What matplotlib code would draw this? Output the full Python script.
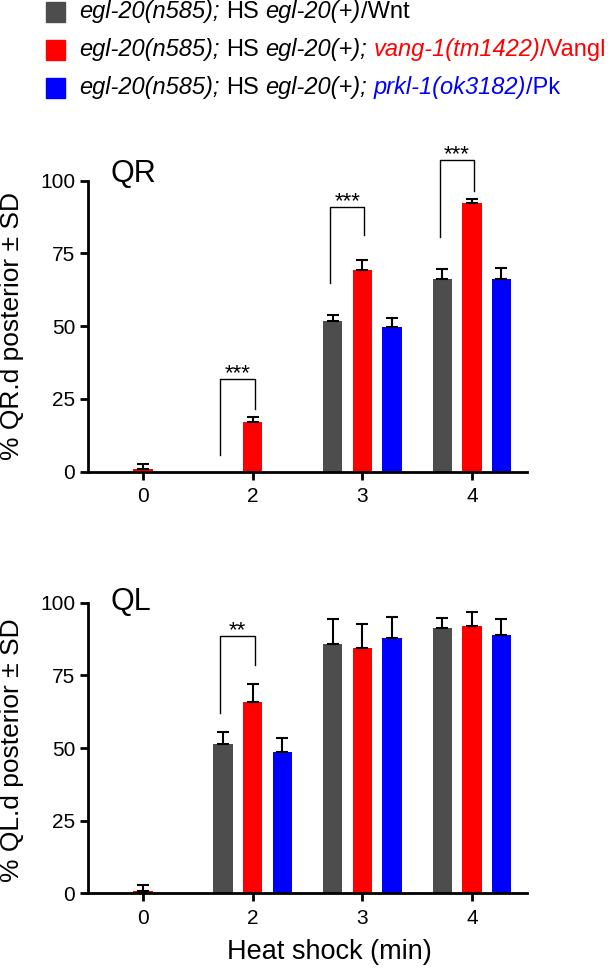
import numpy as np
import matplotlib.pyplot as plt
from matplotlib.patches import Rectangle

plt.rcParams['font.family'] = ['Liberation Sans', 'DejaVu Sans']

kategorien = ['0', '2', '3', '4']

# QR.d posterior (%), Mittelwert und SD
qr_wnt = [0, 0, 51.9, 66.3]
qr_wnt_sd = [0, 0, 2.0, 3.5]
qr_vangl = [0.8, 17.2, 69.4, 92.2]
qr_vangl_sd = [1.8, 1.6, 3.4, 1.5]
qr_pk = [0, 0, 49.8, 66.1]
qr_pk_sd = [0, 0, 3.1, 3.8]

# QL.d posterior (%), Mittelwert und SD
ql_wnt = [0, 51.3, 85.7, 91.2]
ql_wnt_sd = [0, 4.2, 8.6, 3.5]
ql_vangl = [0.8, 65.9, 84.3, 92.0]
ql_vangl_sd = [2.1, 6.0, 8.5, 4.9]
ql_pk = [0, 48.6, 87.8, 89.0]
ql_pk_sd = [0, 4.7, 7.2, 5.3]

# Signifikanz: Kategorie, Sterne, Bügelhöhe, unteres Ende links / rechts
qr_sig = [(1, '***', 31.8, 5.7, 21.7),
          (2, '***', 91.0, 64.8, 81.3),
          (3, '***', 107.1, 80.6, 96.6)]
ql_sig = [(1, '**', 88.5, 62.2, 78.6)]

GRAU = '#4d4d4d'
ROT = '#ff0000'
BLAU = '#0000ff'

fig = plt.figure(figsize=(6.15, 9.69), dpi=100)
W, H = 615, 969


def achse(links, oben, rechts, unten):
    return fig.add_axes([links / W, 1 - unten / H, (rechts - links) / W, (unten - oben) / H])


def panel(ax, reihen, sig, titel, titel_y):
    x = np.arange(len(kategorien))
    for i, (werte, sd, farbe) in enumerate(reihen):
        pos = x + (i - 1) * 0.27
        werte = np.array(werte, dtype=float)
        sd = np.array(sd, dtype=float)
        ax.bar(pos, werte, width=0.178, color=farbe, zorder=2)
        m = sd > 0
        ax.errorbar(pos[m], werte[m], yerr=[np.zeros(m.sum()), sd[m]], fmt='none',
                    ecolor='black', elinewidth=1.5, capsize=4.5, capthick=1.5, zorder=3)
    for k, sterne, top, y_links, y_rechts in sig:
        xl = k - 0.295
        xr = k + 0.02
        ax.plot([xl, xl, xr, xr], [y_links, top, top, y_rechts], color='black',
                lw=1.0, clip_on=False, zorder=4)
        ax.text((xl + xr) / 2, top, sterne, ha='center', va='baseline',
                fontsize=16, clip_on=False)
    ax.set_xlim(-0.5, 3.5)
    ax.set_ylim(0, 100)
    ax.set_xticks(x)
    ax.set_xticklabels(kategorien)
    ax.set_yticks([0, 25, 50, 75, 100])
    for s in ['top', 'right']:
        ax.spines[s].set_visible(False)
    for s in ['left', 'bottom']:
        ax.spines[s].set_linewidth(2)
    ax.tick_params(axis='both', width=2, length=6, labelsize=15)
    ax.tick_params(axis='x', pad=5)
    ax.tick_params(axis='y', pad=3.5)
    ax.text(0.05, titel_y, titel, transform=ax.transAxes, fontsize=22, va='baseline')


ax1 = achse(88.3, 180.7, 526.7, 471.7)
panel(ax1, [(qr_wnt, qr_wnt_sd, GRAU), (qr_vangl, qr_vangl_sd, ROT), (qr_pk, qr_pk_sd, BLAU)],
      qr_sig, 'QR', 0.997)
fig.text(12 / W, 1 - 326 / H, '% QR.d posterior ± SD', rotation=90,
         ha='center', va='center', fontsize=19)

ax2 = achse(88.3, 602.7, 526.7, 893.3)
panel(ax2, [(ql_wnt, ql_wnt_sd, GRAU), (ql_vangl, ql_vangl_sd, ROT), (ql_pk, ql_pk_sd, BLAU)],
      ql_sig, 'QL', 0.975)
fig.text(12 / W, 1 - 750 / H, '% QL.d posterior ± SD', rotation=90,
         ha='center', va='center', fontsize=19)
fig.text(329.5 / W, 1 - 959 / H, 'Heat shock (min)', ha='center', va='baseline', fontsize=19.5)

# Legende oben: Quadrat + zusammengesetzter Text (kursiv / normal, farbig)
legende = [
    (GRAU, [('egl-20(n585);', 'italic', 'black', 0), ('HS', 'normal', 'black', 1),
            ('egl-20(+)', 'italic', 'black', 1), ('/Wnt', 'normal', 'black', 0)]),
    (ROT, [('egl-20(n585);', 'italic', 'black', 0), ('HS', 'normal', 'black', 1),
           ('egl-20(+);', 'italic', 'black', 1), ('vang-1(tm1422)', 'italic', ROT, 1),
           ('/Vangl', 'normal', ROT, 0)]),
    (BLAU, [('egl-20(n585);', 'italic', 'black', 0), ('HS', 'normal', 'black', 1),
            ('egl-20(+);', 'italic', 'black', 1), ('prkl-1(ok3182)', 'italic', BLAU, 1),
            ('/Pk', 'normal', BLAU, 0)]),
]
fs_leg = 17
zeilen_y = [12, 50, 88]
for (farbe, teile), yz in zip(legende, zeilen_y):
    fig.add_artist(Rectangle((46 / W, 1 - (yz + 9.5) / H), 19 / W, 19 / H,
                             transform=fig.transFigure, color=farbe))
    txt, stil, tfarbe, _ = teile[0]
    t = fig.text(79 / W, 1 - (yz + 6) / H, txt, style=stil, color=tfarbe,
                 fontsize=fs_leg, va='baseline')
    for txt, stil, tfarbe, leer in teile[1:]:
        t = ax1.annotate(txt, xy=(1, 0), xycoords=t, xytext=(leer * 0.278 * fs_leg, 0),
                         textcoords='offset points', va='bottom', ha='left',
                         style=stil, color=tfarbe, fontsize=fs_leg, annotation_clip=False)

fig.savefig('out.png', dpi=100)
